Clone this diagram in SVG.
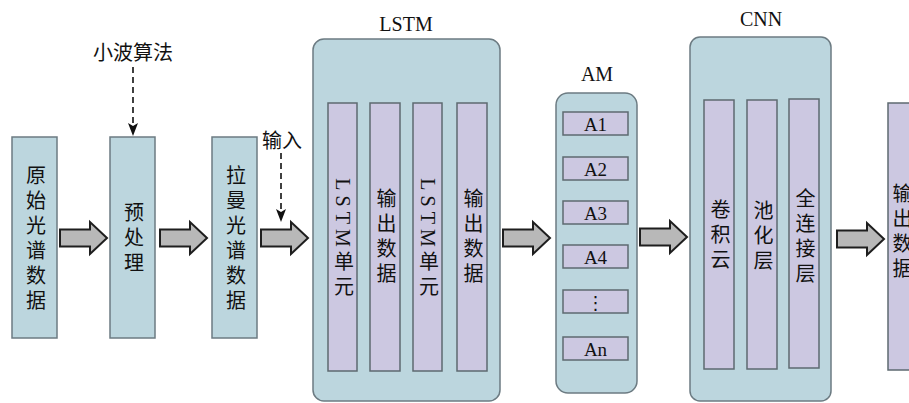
<svg xmlns="http://www.w3.org/2000/svg" width="909" height="403" viewBox="0 0 909 403">
<style>
.box{fill:#bcd6de;stroke:#6c7b82;stroke-width:1.5}
.bar{fill:#ccc8e1;stroke:#5d6a70;stroke-width:1.5}
.zh{font-family:"Noto Sans CJK SC","Noto Sans",sans-serif;font-size:20px;fill:#111;text-anchor:middle;dominant-baseline:central}
.v{font-family:"Liberation Serif","Noto Sans CJK SC",serif;font-size:20px;fill:#111;text-anchor:middle;writing-mode:vertical-rl;letter-spacing:5px}
.en{font-family:"Liberation Serif",serif;font-size:20px;fill:#111;text-anchor:middle}
.lat{font-family:"Liberation Serif",serif;font-size:19px;fill:#111;text-anchor:middle;dominant-baseline:central}
.blk{fill:#b8b8b8;stroke:#1e1e1e;stroke-width:2;stroke-linejoin:miter}
.dash{stroke:#111;stroke-width:1.6;stroke-dasharray:6 4;fill:none}
.head{fill:#111}
</style>
<defs>
<path id="barrow" d="M0,-8.5 H30 V-16 L47,0 L30,16 V8.5 H0 Z"/>
</defs>
<rect width="909" height="403" fill="#fff"/>

<g id="raw">
<rect class="box" x="12" y="137" width="45" height="201"/>
<text class="v" x="34.5" y="240">原始光谱数据</text>
</g>

<g id="pre">
<rect class="box" x="110" y="137" width="45" height="201"/>
<text class="v" x="132.5" y="240">预处理</text>
</g>

<g id="raman">
<rect class="box" x="212" y="137" width="45" height="201"/>
<text class="v" x="234.5" y="240">拉曼光谱数据</text>
</g>

<g id="wavelet">
<text class="zh" x="133" y="51">小波算法</text>
</g>
<g id="input">
<text class="zh" x="282" y="139">输入</text>
</g>

<g id="lstm">
<text class="en" x="406" y="31">LSTM</text>
<rect class="box" x="313" y="39" width="187" height="362" rx="11"/>
<rect class="bar" x="328" y="103" width="29" height="268"/>
<rect class="bar" x="370" y="103" width="30" height="268"/>
<rect class="bar" x="413" y="103" width="29" height="268"/>
<rect class="bar" x="457" y="103" width="30" height="268"/>
<text class="v" x="342.5" y="240">LSTM单元</text>
<text class="v" x="385" y="238">输出数据</text>
<text class="v" x="427.5" y="240">LSTM单元</text>
<text class="v" x="472" y="238">输出数据</text>
</g>

<g id="am">
<text class="en" x="597" y="81">AM</text>
<rect class="box" x="556" y="93" width="81" height="300" rx="12"/>
<rect class="bar" x="563" y="112" width="65" height="23"/>
<rect class="bar" x="563" y="157" width="65" height="23"/>
<rect class="bar" x="563" y="201" width="65" height="23"/>
<rect class="bar" x="563" y="245" width="65" height="23"/>
<rect class="bar" x="563" y="290" width="65" height="23"/>
<rect class="bar" x="563" y="337" width="65" height="23"/>
<text class="lat" x="595.5" y="124">A1</text>
<text class="lat" x="595.5" y="169">A2</text>
<text class="lat" x="595.5" y="213">A3</text>
<text class="lat" x="595.5" y="257">A4</text>
<text class="lat" x="595.5" y="302" style="font-family:'DejaVu Sans',sans-serif;font-size:18px">⋮</text>
<text class="lat" x="595.5" y="349">An</text>
</g>

<g id="cnn">
<text class="en" x="761" y="26">CNN</text>
<rect class="box" x="690" y="37" width="141" height="364" rx="10"/>
<rect class="bar" x="704" y="100" width="30" height="269"/>
<rect class="bar" x="747" y="100" width="30" height="269"/>
<rect class="bar" x="789" y="99" width="30" height="269"/>
<text class="v" x="719" y="237">卷积云</text>
<text class="v" x="762" y="238">池化层</text>
<text class="v" x="804" y="238">全连接层</text>
</g>

<g id="output">
<rect class="bar" x="888" y="103" width="40" height="267"/>
<text class="v" x="901" y="233">输出数据</text>
</g>

<g id="connectors">
<use href="#barrow" class="blk" transform="translate(60,238)"/>
<use href="#barrow" class="blk" transform="translate(160,238)"/>
<use href="#barrow" class="blk" transform="translate(261,238)"/>
<use href="#barrow" class="blk" transform="translate(503,238)"/>
<use href="#barrow" class="blk" transform="translate(640,237)"/>
<use href="#barrow" class="blk" transform="translate(837,239)"/>
<path class="dash" d="M133,67 V127"/>
<polygon class="head" points="128,123 133,136 138,123 133,126"/>
<path class="dash" d="M281,153 V213"/>
<polygon class="head" points="276,209 281,222 286,209 281,212"/>
</g>
</svg>
